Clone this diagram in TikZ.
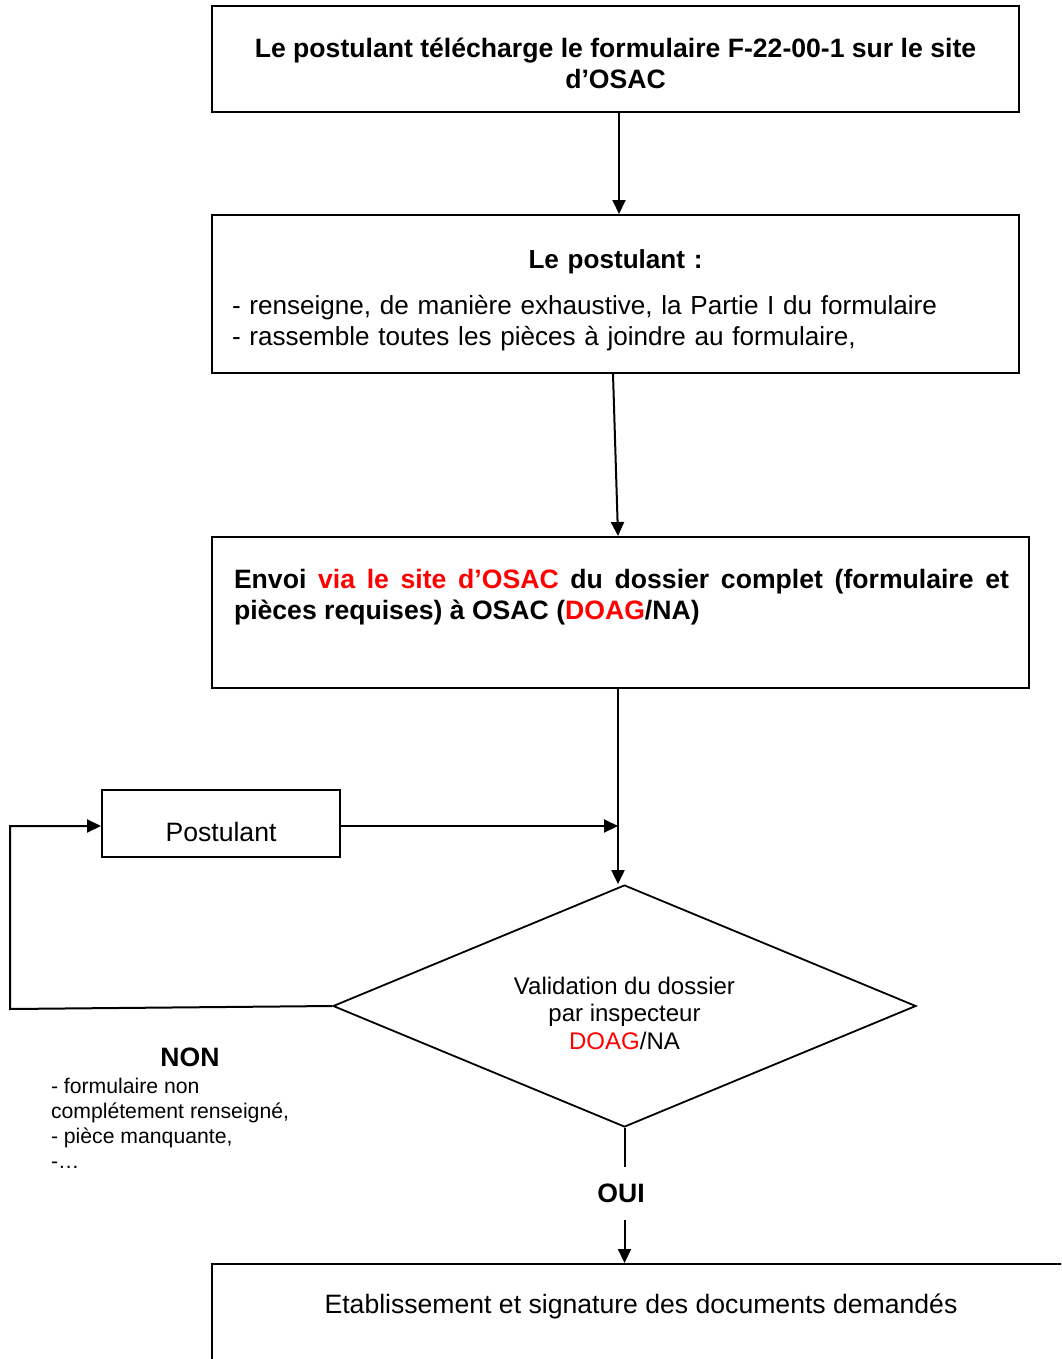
\documentclass[tikz,border=0pt]{standalone}
\usepackage{fontspec}
\setmainfont{Liberation Sans}
\usetikzlibrary{arrows.meta, shapes.geometric, positioning}
\definecolor{osacRed}{HTML}{FF0000}
\tikzset{
  % same line weight everywhere
  every picture/.append style = {line width=1pt},
  fleche/.style  = {-{Triangle[length=7pt, width=6.5pt]}, line width=1pt},
  boite/.style   = {draw, rectangle, line width=1pt},
  losange/.style = {draw, diamond, aspect=2.41, line width=0.9pt, inner sep=0pt},
  lbl/.style     = {font=\fontsize{13.3}{15.5}\selectfont},
  blbl/.style    = {font=\fontsize{13.3}{15.5}\selectfont\bfseries},
  dlbl/.style    = {font=\fontsize{12}{13.75}\selectfont},
  slbl/.style    = {font=\fontsize{10.6}{12.5}\selectfont},
}

\begin{document}
\begin{tikzpicture}[x=0.5pt, y=-0.5pt]
  \useasboundingbox (0,0) rectangle (1061,1359);
  \clip (0,0) rectangle (1061,1359);
  % steps, top to bottom
  \node[boite, blbl, minimum width=403.5pt, minimum height=53pt,
        text width=390pt, align=flush center] (telech) at (615.5,59)
    {\rule{0pt}{13.8pt}Le postulant télécharge le formulaire F-22-00-1 sur le site\\d’OSAC};
  \node[boite, lbl, font=\fontsize{13.05}{15.5}\selectfont, minimum width=403.5pt,
        minimum height=79pt, text width=383.5pt] (remplit) at (615.5,294)
    {\centering\rule{0pt}{16pt}\textbf{Le postulant :}\par\vspace{7.5pt}\raggedright
     - renseigne, de manière exhaustive, la Partie I du formulaire\\
     - rassemble toutes les pièces à joindre au formulaire,};
  \node[boite, minimum width=408.5pt, minimum height=75.5pt] (envoi) at (620.5,612.5) {};
  \node[blbl, text width=387.5pt, align=justify, anchor=north west, inner sep=0pt]
    (envoitxt) at (233,568)
    {Envoi \textcolor{osacRed}{via le site d’OSAC} du dossier complet (formulaire et\linebreak
     pièces requises) à OSAC (\textcolor{osacRed}{DOAG}/NA)};
  % check by the inspector
  \node[losange, dlbl, minimum width=291.5pt, minimum height=121pt, align=center]
    (valid) at (624.5,1006)
    {\\[2pt]Validation du dossier\\par inspecteur\\\textcolor{osacRed}{DOAG}/NA};
  \node[boite, lbl, minimum width=119pt, minimum height=33.5pt,
        text height=20.5pt, text depth=2.8pt] (postul) at (221,823.5) {Postulant};
  \coordinate (descente) at ([xshift=-1.25pt]envoi.south);
  \coordinate (coin) at (10,1009);
  \node[blbl] (non) at (190,1057) {NON};
  \node[slbl, anchor=north west, align=left, inner sep=0pt] (motifs) at (50,1077)
    {- formulaire non\\complétement renseigné,\\- pièce manquante,\\-…};
  \node[blbl, inner sep=0pt, minimum height=25.5pt] (oui) at (621,1193) {OUI};
  % last box runs off the page
  \node[boite, minimum width=429pt, minimum height=75pt] (fin) at (641,1339) {};
  \node[lbl] (fintxt) at (641,1306) {Etablissement et signature des documents demandés};
  % connectors
  \draw[fleche] ([xshift=1.75pt]telech.south) -- ([xshift=1.75pt]remplit.north);
  \draw[fleche] ([xshift=-1.25pt]remplit.south) -- (descente |- envoi.north);
  \draw[fleche] (descente) -- (descente |- valid.north);
  \draw[fleche] ([yshift=-1.25pt]postul.east) -- ([yshift=-1.25pt]postul.east -| descente);
  \draw[fleche] (valid.west) -- (coin) |- ([yshift=-1.25pt]postul.west);
  \draw (valid.south) -- (valid.south |- oui.north);
  \draw[fleche] (valid.south |- oui.south) -- (valid.south |- fin.north);
\end{tikzpicture}
\end{document}
